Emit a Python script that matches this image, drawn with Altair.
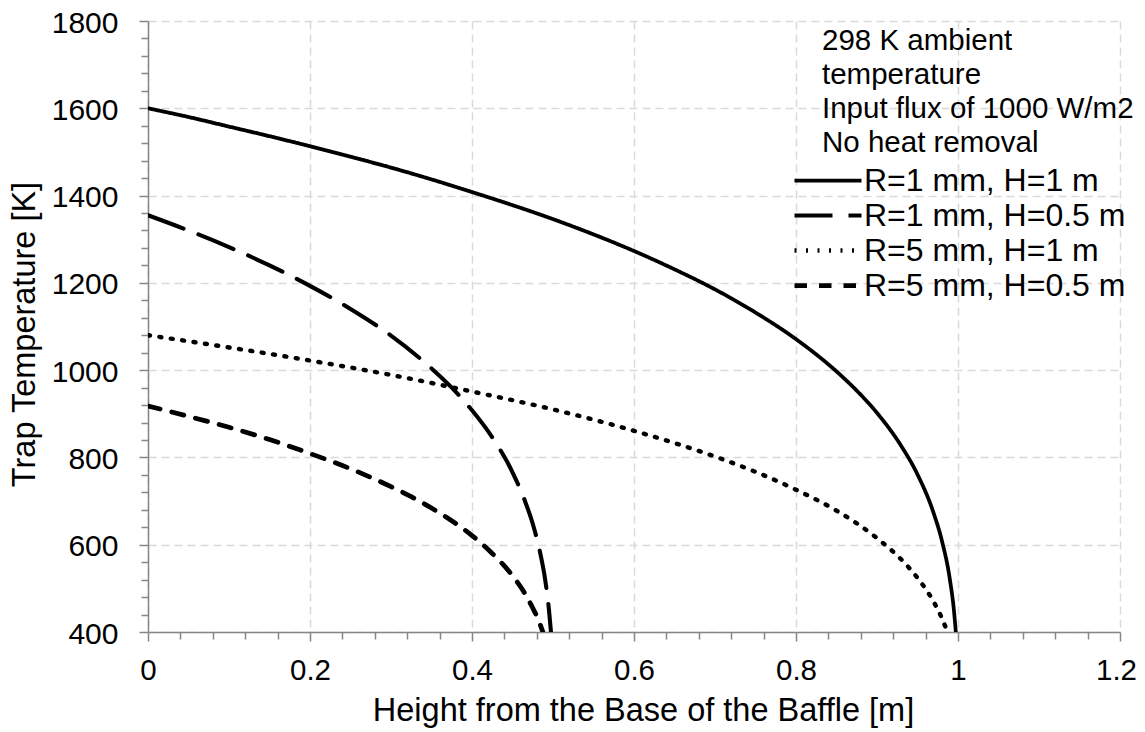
import altair as alt
import pandas as pd

FONT = "Liberation Sans"

series_names = ["R=1 mm, H=1 m", "R=1 mm, H=0.5 m", "R=5 mm, H=1 m", "R=5 mm, H=0.5 m"]

# R=1 mm, H=1 m (solid)
x_r1_h1 = [0, 0.05, 0.1, 0.15, 0.2, 0.25, 0.3, 0.35, 0.4, 0.45, 0.5, 0.55, 0.6, 0.65,
           0.7, 0.75, 0.8, 0.85, 0.875, 0.9, 0.93, 0.95, 0.97, 0.98, 0.99, 0.995, 0.9973]
t_r1_h1 = [1600, 1580, 1558, 1536, 1513, 1489, 1464, 1437, 1408, 1378, 1346, 1311, 1273, 1231,
           1185, 1132, 1071, 997, 953, 902, 826, 761, 672, 610, 520, 449, 400]

# R=1 mm, H=0.5 m (long dash)
x_r1_h05 = [0, 0.05, 0.1, 0.15, 0.2, 0.25, 0.3, 0.35, 0.375, 0.4, 0.425, 0.45, 0.465,
            0.475, 0.485, 0.49, 0.495, 0.4975]
t_r1_h05 = [1355, 1320, 1282, 1240, 1193, 1140, 1079, 1004, 960, 908, 846, 766, 702,
            648, 574, 524, 451, 400]

# R=5 mm, H=1 m (dotted)
x_r5_h1 = [0, 0.1, 0.2, 0.3, 0.4, 0.5, 0.6, 0.7, 0.75, 0.8, 0.85, 0.9, 0.93, 0.95, 0.97, 0.98, 0.987]
t_r5_h1 = [1080, 1052, 1022, 989, 951, 910, 861, 802, 767, 726, 678, 615, 566, 524, 469, 432, 400]

# R=5 mm, H=0.5 m (short dash)
x_r5_h05 = [0, 0.05, 0.1, 0.15, 0.2, 0.25, 0.3, 0.325, 0.35, 0.375, 0.4, 0.425, 0.45,
            0.465, 0.475, 0.48, 0.485, 0.4875]
t_r5_h05 = [918, 894, 869, 841, 809, 774, 733, 710, 684, 655, 621, 580, 529,
            489, 455, 436, 413, 400]

note_lines = ["298 K ambient", "temperature", "Input flux of 1000 W/m2", "No heat removal"]

x_major = [0, 0.2, 0.4, 0.6, 0.8, 1.0, 1.2]
y_major = [400, 600, 800, 1000, 1200, 1400, 1600, 1800]
x_minor = [0.04, 0.08, 0.12, 0.16, 0.24, 0.28, 0.32, 0.36, 0.44, 0.48, 0.52, 0.56,
           0.64, 0.68, 0.72, 0.76, 0.84, 0.88, 0.92, 0.96, 1.04, 1.08, 1.12, 1.16]
y_minor = [440, 480, 520, 560, 640, 680, 720, 760, 840, 880, 920, 960, 1040, 1080, 1120, 1160,
           1240, 1280, 1320, 1360, 1440, 1480, 1520, 1560, 1640, 1680, 1720, 1760]

rows = []
for name, xs, ts in zip(series_names,
                        [x_r1_h1, x_r1_h05, x_r5_h1, x_r5_h05],
                        [t_r1_h1, t_r1_h05, t_r5_h1, t_r5_h05]):
    for i, (xv, tv) in enumerate(zip(xs, ts)):
        rows.append({"series": name, "x": xv, "T": tv, "order": i})
df = pd.DataFrame(rows)

dash_range = [[1, 0], [38, 16], [2, 9.5], [12.5, 12]]
width_range = [3.75, 4.75, 5.25, 4.75]

x_scale = alt.Scale(domain=[0, 1.2], nice=False, zero=False)
y_scale = alt.Scale(domain=[400, 1800], nice=False, zero=False)

AX = "#868686"

legend = alt.Legend(
    title=None, orient="none", legendX=644, legendY=142,
    symbolType="stroke", symbolSize=4489, symbolStrokeColor="black",
    labelFontSize=32, labelFont=FONT, labelColor="black", labelOffset=0,
    padding=0, rowPadding=0, clipHeight=35, labelLimit=400,
)

lines = alt.Chart(df).mark_line(
    color="black", strokeCap="round", strokeJoin="round", interpolate="monotone", clip=True
).encode(
    x=alt.X("x:Q", scale=x_scale, axis=alt.Axis(
        values=x_major, format="~g", title="Height from the Base of the Baffle [m]",
        orient="bottom", labelFontSize=29.5, labelColor="black", labelPadding=15, labelFlush=False,
        labelOffset=alt.ExprRef("datum.value > 1.1 ? -4 : 0"),
        labelOverlap=False, tickSize=9, tickColor=AX, tickWidth=1.5, domainColor=AX, domainWidth=1.5,
        grid=True, gridColor="#d9d9d9", gridDash=[8, 5], gridWidth=1.5,
        titleFontSize=32.5, titleFontWeight="normal", titleColor="black", titlePadding=10,
        titleX=495,
    )),
    y=alt.Y("T:Q", scale=y_scale, axis=alt.Axis(
        values=y_major, format="d", title="Trap Temperature [K]",
        orient="left", labelFontSize=30, labelColor="black", labelPadding=21, labelFlush=False,
        labelOffset=2,
        labelOverlap=False, tickSize=9, tickColor=AX, tickWidth=1.5, domainColor=AX, domainWidth=1.5,
        grid=True, gridColor="#d9d9d9", gridDash=[8, 5], gridWidth=1.5,
        titleFontSize=32.5, titleFontWeight="normal", titleColor="black", titlePadding=10,
        titleY=313,
    )),
    strokeDash=alt.StrokeDash("series:N", scale=alt.Scale(domain=series_names, range=dash_range),
                              legend=legend),
    strokeWidth=alt.StrokeWidth("series:N", scale=alt.Scale(domain=series_names, range=width_range),
                                legend=legend),
    order="order:Q",
)

minor = alt.Chart(df).mark_line(strokeOpacity=0).encode(
    x=alt.X("x:Q", scale=x_scale, axis=alt.Axis(
        values=x_minor, labels=False, grid=False, domain=False, ticks=True, tickSize=7,
        tickColor=AX, tickWidth=1.5, title=None, orient="bottom")),
    y=alt.Y("T:Q", scale=y_scale, axis=alt.Axis(
        values=y_minor, labels=False, grid=False, domain=False, ticks=True, tickSize=7,
        tickColor=AX, tickWidth=1.5, title=None, orient="left")),
    detail="series:N",
)

note = alt.Chart(pd.DataFrame({"text": ["\n".join(note_lines)]})).mark_text(
    lineBreak="\n", lineHeight=34, align="left", baseline="alphabetic",
    x=674, y=29, fontSize=29.5, font=FONT, color="black",
).encode(text="text:N")

chart = alt.layer(minor, lines, note).resolve_axis(
    x="independent", y="independent"
).properties(
    width=972, height=611,
    autosize=alt.AutoSizeParams(type="none"),
    padding={"left": 140, "top": 13, "right": 17, "bottom": 100},
).configure(font=FONT).configure_view(stroke=None).configure_axis(
    labelFont=FONT, titleFont=FONT
)

chart.save("out.html", embed_options={"renderer": "svg", "actions": False})
